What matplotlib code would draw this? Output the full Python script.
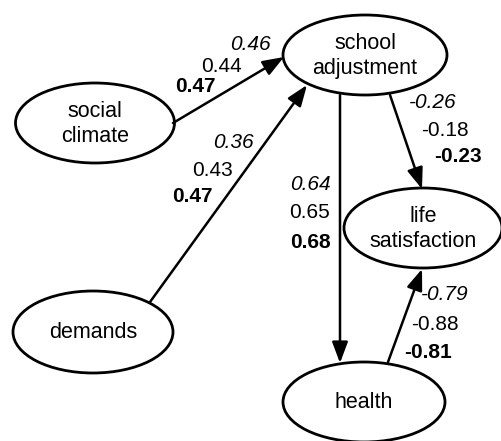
import matplotlib
matplotlib.use("Agg")
import matplotlib.pyplot as plt
from matplotlib.patches import Ellipse

plt.rcParams['font.family'] = ['Liberation Sans', 'DejaVu Sans']

# nodes of the path model
node_names = ['social', 'demands', 'school', 'life', 'health']
node_labels = ['social\nclimate', 'demands', 'school\nadjustment', 'life\nsatisfaction', 'health']

# paths (source, target) and the three coefficients shown for each
paths = [('social', 'school'), ('demands', 'school'), ('school', 'health'),
         ('school', 'life'), ('health', 'life')]
coef_italic = [0.46, 0.36, 0.64, -0.26, -0.79]
coef_plain = [0.44, 0.43, 0.65, -0.18, -0.88]
coef_bold = [0.47, 0.47, 0.68, -0.23, -0.81]

# layout in pixel coordinates (y grows downwards)
node_pos = {'social': (95, 123), 'demands': (93, 332), 'school': (365, 55),
            'life': (423, 228), 'health': (364, 402)}
node_size = {'social': (159, 80), 'demands': (160, 82), 'school': (164, 80),
             'life': (158, 80), 'health': (162, 80)}
arrow_ends = [((173, 123), (284, 57)), ((150, 302), (307, 85)),
              ((340, 95), (340, 363)), ((390, 95), (422, 189)),
              ((388, 362), (422, 269))]
label_pos = [[(250, 45), (222, 67), (195, 87)],
             [(233, 142), (213, 170), (192, 197)],
             [(310, 185), (310, 212), (310, 242)],
             [(433, 102), (445, 130), (458, 157)],
             [(445, 295), (435, 325), (428, 352)]]

fig = plt.figure(figsize=(5.01, 4.41), dpi=100)
ax = fig.add_axes([0, 0, 1, 1])
ax.set_xlim(0, 501)
ax.set_ylim(441, 0)
ax.axis('off')

for name, lab in zip(node_names, node_labels):
    (cx, cy), (w, h) = node_pos[name], node_size[name]
    ax.add_patch(Ellipse((cx, cy), w, h, fill=False, lw=2, ec='black'))
    ax.text(cx, cy + 1, lab, ha='center', va='center', fontsize=15.5,
            linespacing=1.2)

for (p0, p1) in arrow_ends:
    ax.annotate('', xy=p1, xytext=p0,
                arrowprops=dict(arrowstyle='-|>,head_length=0.8,head_width=0.3',
                                lw=1.8, color='black', mutation_scale=16,
                                shrinkA=0, shrinkB=0))

for i in range(len(paths)):
    vals = [coef_italic[i], coef_plain[i], coef_bold[i]]
    styles = [dict(style='italic'), dict(), dict(weight='bold')]
    for v, st, (x, y) in zip(vals, styles, label_pos[i]):
        ax.text(x, y, f'{v:.2f}', ha='center', va='center', fontsize=15, **st)

fig.savefig('out.png', dpi=100)
